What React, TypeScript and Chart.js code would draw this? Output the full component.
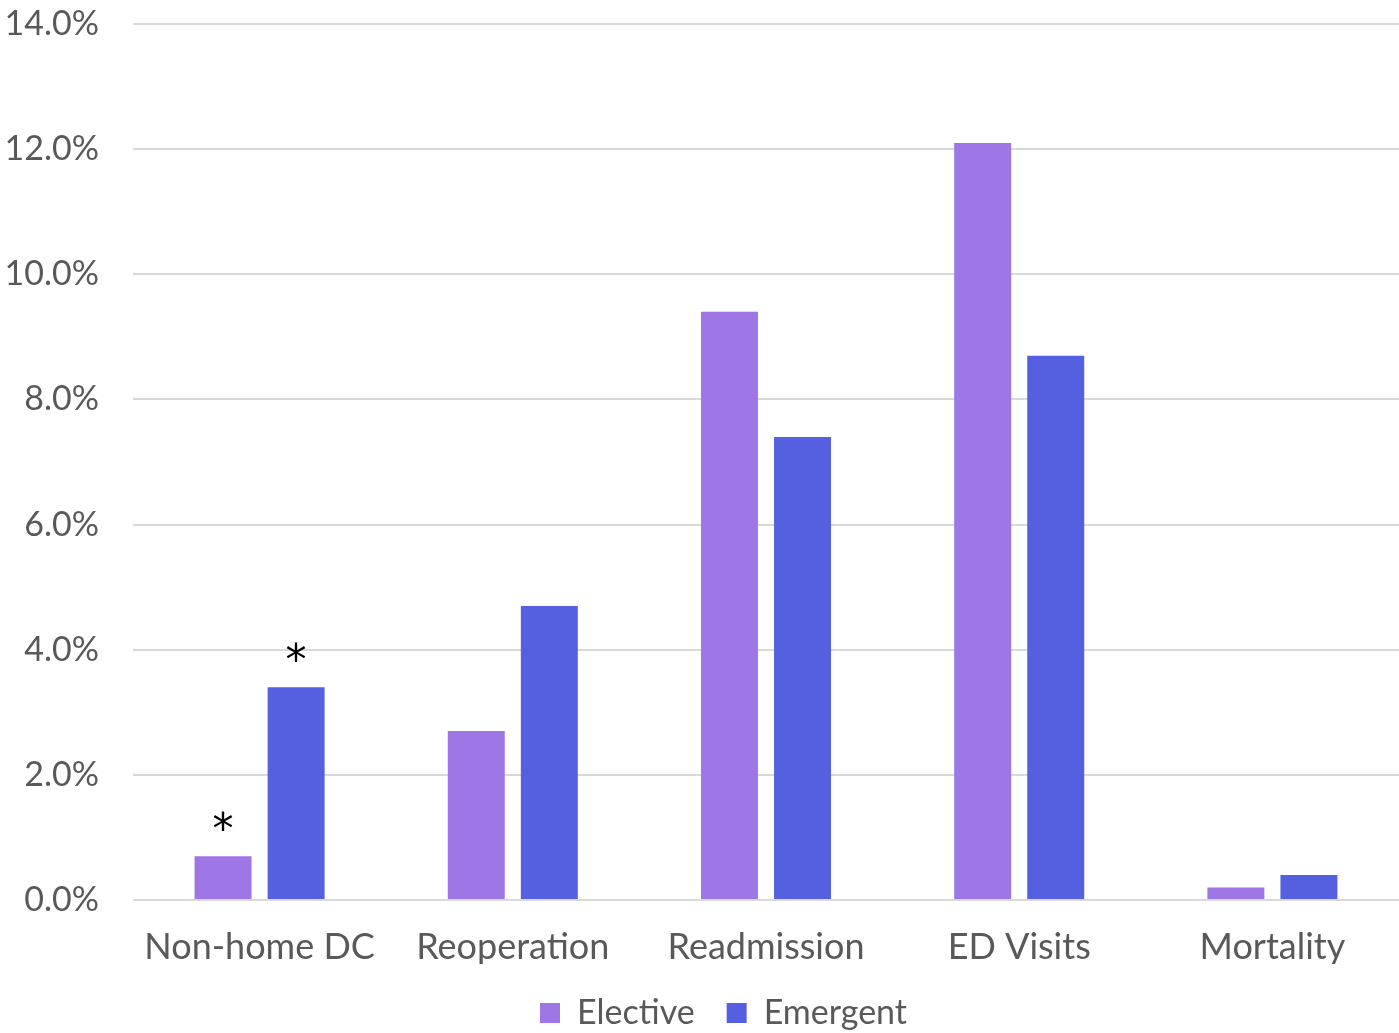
import React, { useEffect, useRef } from "react";
import { Chart, registerables } from "chart.js";

Chart.register(...registerables);

const categories = ["Non-home DC", "Reoperation", "Readmission", "ED Visits", "Mortality"];
const elective = [0.7, 2.7, 9.4, 12.1, 0.2];
const emergent = [3.4, 4.7, 7.4, 8.7, 0.4];
// categories whose bars carry a significance marker
const significant = [true, false, false, false, false];

const FONT = "Lato, 'Open Sans', sans-serif";
const TEXT = "#595959";
const LEGEND_HEIGHT = 69;

const asteriskPlugin = {
  id: "asterisks",
  afterDatasetsDraw(chart: any) {
    const ctx = chart.ctx;
    ctx.save();
    ctx.fillStyle = "#000";
    ctx.font = "42px 'DejaVu Sans', sans-serif";
    ctx.textAlign = "center";
    ctx.textBaseline = "middle";
    chart.data.datasets.forEach((_: any, di: number) => {
      const meta = chart.getDatasetMeta(di);
      meta.data.forEach((bar: any, i: number) => {
        if (!significant[i]) return;
        ctx.fillText("*", bar.x, bar.y - 24);
      });
    });
    ctx.restore();
  },
};

// keep the bottom legend compact and nudge it a little right of the canvas centre
const legendLayout = {
  id: "legendLayout",
  beforeLayout(chart: any) {
    const legend = chart.legend;
    if (!legend || legend.__compact) return;
    const fit = legend.fit;
    legend.fit = function (this: any) {
      fit.call(this);
      this.height = LEGEND_HEIGHT;
    };
    legend.__compact = true;
  },
  afterLayout(chart: any) {
    if (chart.legend) chart.legend.left += 48;
  },
};

export default function App() {
  const ref = useRef<HTMLCanvasElement>(null);
  useEffect(() => {
    document.body.style.margin = "0";
    const chart = new Chart(ref.current!, {
      type: "bar",
      data: {
        labels: categories,
        datasets: [
          { label: "Elective", data: elective, backgroundColor: "#9E76E6" },
          { label: "Emergent", data: emergent, backgroundColor: "#5560E1" },
        ],
      },
      options: {
        animation: false,
        responsive: false,
        maintainAspectRatio: false,
        layout: { padding: { top: 24, right: 0, left: 0, bottom: 0 } },
        datasets: { bar: { categoryPercentage: 0.577, barPercentage: 0.78 } },
        plugins: {
          tooltip: { enabled: false },
          legend: {
            position: "bottom",
            labels: {
              boxWidth: 20,
              boxHeight: 20,
              padding: 32,
              color: TEXT,
              font: { family: FONT, size: 34 },
            },
          },
        },
        scales: {
          x: {
            grid: { display: false },
            border: { display: false },
            ticks: { color: TEXT, font: { family: FONT, size: 36 }, padding: 18 },
            afterFit(scale: any) {
              scale.height = 64;
            },
          },
          y: {
            min: 0,
            max: 14,
            grid: { color: "#D9D9D9", lineWidth: 2, drawTicks: false },
            border: { display: false },
            ticks: {
              stepSize: 2,
              color: TEXT,
              padding: 34,
              font: { family: FONT, size: 34 },
              callback: (v: any) => Number(v).toFixed(1) + "%",
            },
            afterFit(scale: any) {
              scale.width = 133;
              scale.paddingTop = 0;
              scale.paddingBottom = 0;
            },
          },
        },
      },
      plugins: [asteriskPlugin, legendLayout],
    });
    return () => chart.destroy();
  }, []);
  return (
    <div style={{ width: 1399, height: 1033, background: "#fff" }}>
      <canvas ref={ref} width={1399} height={1033} />
    </div>
  );
}
